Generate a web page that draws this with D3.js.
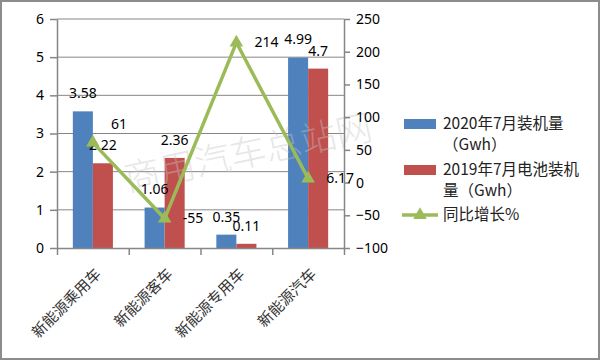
<!DOCTYPE html>
<html>
<head>
<meta charset="utf-8">
<script src="https://cdn.jsdelivr.net/npm/d3@7"></script>
<style>
  body { margin: 0; background: #fff; }
  svg text { font-family: "Noto Sans", "Noto Sans CJK SC", sans-serif; }
</style>
</head>
<body>
<div id="chart"></div>
<script>
// data
var categories = ["新能源乘用车", "新能源客车", "新能源专用车", "新能源汽车"];
var install2020 = [3.58, 1.06, 0.35, 4.99];
var install2019 = [2.22, 2.36, 0.11, 4.7];
var growth = [61, -55, 214, 6.17];
var growthLabels = ["61", "-55", "214", "6.17"];
var leftTicks = [0, 1, 2, 3, 4, 5, 6];
var rightTicks = [-100, -50, 0, 50, 100, 150, 200, 250];
var seriesNames = [["2020年7月装机量", "（Gwh）"], ["2019年7月电池装机", "量（Gwh）"], ["同比增长%"]];
var watermark = "商用汽车总站网";

var colors = ["#4F81BD", "#C0504D", "#9BBB59"];
var axisGray = "#868686";

var width = 600, height = 360;
var plot = {left: 57, right: 344, top: 19, bottom: 248};

var svg = d3.select("#chart").append("svg")
    .attr("width", width)
    .attr("height", height);

var x = d3.scaleBand().domain(categories).range([plot.left, plot.right]);
var inner = d3.scaleBand().domain([0, 1]).range([0, x.bandwidth()]).paddingOuter(0.79);
var y = d3.scaleLinear().domain([0, 6]).range([plot.bottom, plot.top]);
var yR = d3.scaleLinear().domain([-100, 250]).range([plot.bottom, plot.top]);
var edge = d3.scaleLinear().domain([0, categories.length]).range([plot.left, plot.right]);

// gridlines
svg.append("g").selectAll("line")
    .data(leftTicks.filter(function(t) { return t > 0; }))
    .enter().append("line")
    .attr("x1", plot.left).attr("x2", plot.right)
    .attr("y1", function(d) { return y(d); })
    .attr("y2", function(d) { return y(d); })
    .style("stroke", axisGray)
    .style("stroke-width", 1);

// bars
var series = [install2020, install2019];
series.forEach(function(vals, s) {
    svg.append("g").selectAll("rect")
        .data(vals)
        .enter().append("rect")
        .attr("x", function(d, i) { return x(categories[i]) + inner(s); })
        .attr("width", inner.bandwidth())
        .attr("y", function(d) { return y(d); })
        .attr("height", function(d) { return y(0) - y(d); })
        .style("fill", colors[s]);
});

// watermark
svg.append("text")
    .attr("transform", "translate(248,153) rotate(-12)")
    .attr("text-anchor", "middle")
    .attr("dy", "0.35em")
    .style("font-family", "'Noto Sans CJK SC', sans-serif")
    .style("font-weight", 300)
    .style("font-size", "36px")
    .style("fill", "#c4c4c4")
    .style("opacity", 0.4)
    .text(watermark);

// axes
var leftAxis = svg.append("g")
    .attr("transform", "translate(" + plot.left + ",0)")
    .call(d3.axisLeft(y).tickValues(leftTicks).tickFormat(d3.format("d"))
        .tickSize(7).tickSizeOuter(0).tickPadding(6));

var rightAxis = svg.append("g")
    .attr("transform", "translate(" + plot.right + ",0)")
    .call(d3.axisRight(yR).tickValues(rightTicks).tickFormat(d3.format("d"))
        .tickSize(6).tickSizeOuter(0).tickPadding(6));

var bottomAxis = svg.append("g")
    .attr("transform", "translate(0," + plot.bottom + ")")
    .call(d3.axisBottom(edge).ticks(categories.length).tickFormat("").tickSize(7).tickSizeOuter(0));

[leftAxis, rightAxis, bottomAxis].forEach(function(g) {
    g.selectAll("path, line").style("stroke", axisGray).style("stroke-width", 1.5);
    g.selectAll("text")
        .style("fill", "#000")
        .style("font-size", "14px")
        .style("font-family", "'Noto Sans', sans-serif");
});

// category labels
svg.append("g").selectAll("text")
    .data(categories)
    .enter().append("text")
    .attr("transform", function(d) {
        return "translate(" + (x(d) + x.bandwidth() / 2 + 9) + ",275) rotate(-45)";
    })
    .attr("text-anchor", "end")
    .style("font-family", "'Noto Sans CJK SC', sans-serif")
    .style("font-size", "15px")
    .style("fill", "#333")
    .text(function(d) { return d; });

// bar value labels
series.forEach(function(vals, s) {
    svg.append("g").selectAll("text")
        .data(vals)
        .enter().append("text")
        .attr("x", function(d, i) { return x(categories[i]) + inner(s) + inner.bandwidth() / 2; })
        .attr("y", function(d) { return y(d) - 18; })
        .attr("dy", "0.35em")
        .attr("text-anchor", "middle")
        .style("font-size", "14px")
        .style("fill", "#000")
        .text(function(d) { return d; });
});

// growth line
var cx = function(i) { return x(categories[i]) + x.bandwidth() / 2; };
var line = d3.line()
    .x(function(d, i) { return cx(i); })
    .y(function(d) { return yR(d); });

svg.append("path")
    .datum(growth)
    .attr("d", line)
    .style("fill", "none")
    .style("stroke", colors[2])
    .style("stroke-width", 3.5)
    .style("stroke-linejoin", "round");

var tri = d3.symbol().type(d3.symbolTriangle).size(80);
svg.append("g").selectAll("path")
    .data(growth)
    .enter().append("path")
    .attr("d", tri)
    .attr("transform", function(d, i) { return "translate(" + cx(i) + "," + yR(d) + ")"; })
    .style("fill", colors[2]);

var growthDy = [-19, 0, 0, 0];
svg.append("g").selectAll("text")
    .data(growth)
    .enter().append("text")
    .attr("x", function(d, i) { return cx(i) + 18; })
    .attr("y", function(d, i) { return yR(d) + growthDy[i]; })
    .attr("dy", "0.35em")
    .style("font-size", "14px")
    .style("fill", "#000")
    .text(function(d, i) { return growthLabels[i]; });

// legend
var legend = svg.append("g").attr("transform", "translate(404,0)");
var legendY = [124, 170, 215];
seriesNames.forEach(function(name, s) {
    if (s < 2) {
        legend.append("rect")
            .attr("x", 0).attr("y", legendY[s] - 5)
            .attr("width", 32).attr("height", 10)
            .style("fill", colors[s]);
    } else {
        legend.append("line")
            .attr("x1", -2).attr("x2", 34)
            .attr("y1", legendY[s]).attr("y2", legendY[s])
            .style("stroke", colors[2]).style("stroke-width", 3.5);
        legend.append("path")
            .attr("d", tri)
            .attr("transform", "translate(16," + legendY[s] + ")")
            .style("fill", colors[2]);
    }
    name.forEach(function(t, k) {
        legend.append("text")
            .attr("x", 39)
            .attr("y", legendY[s] + k * 21)
            .attr("dy", "0.35em")
            .style("font-family", "'Noto Sans CJK SC', sans-serif")
            .style("font-size", "15.5px")
            .style("fill", "#222")
            .text(t);
    });
});

// frame
svg.append("rect")
    .attr("x", 1).attr("y", 1)
    .attr("width", width - 2).attr("height", height - 2)
    .style("fill", "none")
    .style("stroke", "#8c8c8c")
    .style("stroke-width", 2);
</script>
</body>
</html>
